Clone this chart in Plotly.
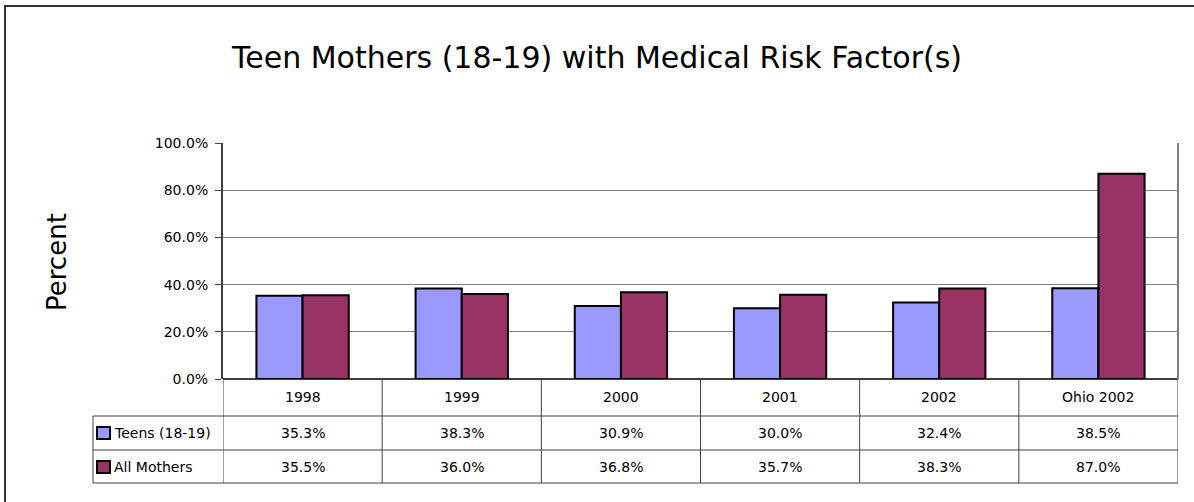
import plotly.graph_objects as go

categories = ["1998", "1999", "2000", "2001", "2002", "Ohio 2002"]
teens = [35.3, 38.3, 30.9, 30.0, 32.4, 38.5]
all_mothers = [35.5, 36.0, 36.8, 35.7, 38.3, 87.0]
series_names = ["Teens (18-19)", "All Mothers"]
colors = ["#9999FF", "#993366"]
y_ticks = [0, 20, 40, 60, 80, 100]

W, H = 1194, 502
L, R, T, B = 223, 16, 143, 123
pw = W - L - R
ph = H - T - B

def px_x(p):
    return (p - L) / pw

def px_y(p):
    return (H - B - p) / ph

FONT = "Verdana, DejaVu Sans, sans-serif"
fig = go.Figure()
for name, vals, c in zip(series_names, [teens, all_mothers], colors):
    fig.add_trace(go.Bar(x=categories, y=vals, name=name, marker=dict(color=c, line=dict(color="black", width=2)),
                         showlegend=False))

n = len(categories)
shapes = []
line_c = "#404040"
# right plot border
shapes.append(dict(type="line", xref="paper", yref="paper", x0=1, x1=1, y0=0, y1=1, line=dict(color="#808080", width=2)))
# table rows
row_lines = [416, 450, 483]
for yp in row_lines:
    shapes.append(dict(type="line", xref="paper", yref="paper", x0=px_x(93), x1=1, y0=px_y(yp), y1=px_y(yp), line=dict(color=line_c, width=1)))
# table verticals at category boundaries
for i in range(n + 1):
    shapes.append(dict(type="line", xref="x", yref="paper", x0=i - 0.5, x1=i - 0.5, y0=0, y1=px_y(483), line=dict(color=line_c, width=1)))
shapes.append(dict(type="line", xref="paper", yref="paper", x0=px_x(93), x1=px_x(93), y0=px_y(416), y1=px_y(483), line=dict(color=line_c, width=1)))
# outer chart border (top and left visible)
shapes.append(dict(type="rect", xref="paper", yref="paper", x0=px_x(5), x1=px_x(1300), y0=px_y(6), y1=px_y(600), line=dict(color="#333333", width=2), fillcolor="rgba(0,0,0,0)"))

annotations = []
row_centers = [397, 433, 467]
tfont = dict(size=14, color="black", family=FONT)
for i, cat in enumerate(categories):
    annotations.append(dict(x=i, xref="x", y=px_y(row_centers[0]), yref="paper", yanchor="middle", xanchor="center", text=cat, showarrow=False, font=tfont))
    for r, vals in enumerate([teens, all_mothers]):
        annotations.append(dict(x=i, xref="x", y=px_y(row_centers[r + 1]), yref="paper", yanchor="middle", xanchor="center", text=f"{vals[i]:.1f}%", showarrow=False, font=tfont))
for r, (name, c) in enumerate(zip(series_names, colors)):
    yc = row_centers[r + 1]
    shapes.append(dict(type="rect", xref="paper", yref="paper", x0=px_x(97), x1=px_x(110), y0=px_y(yc - 6), y1=px_y(yc + 6), fillcolor=c, line=dict(color="black", width=2)))
    annotations.append(dict(x=px_x(112), xref="paper", y=px_y(yc), yref="paper", yanchor="middle", text=name, showarrow=False, xanchor="left", font=tfont))

annotations.append(dict(x=px_x(57), xref="paper", xanchor="center", y=px_y(262), yref="paper", yanchor="middle", text="Percent", textangle=-90, showarrow=False, font=dict(size=26, color="black", family=FONT)))

fig.update_layout(
    width=W, height=H,
    margin=dict(l=L, r=R, t=T, b=B),
    paper_bgcolor="white", plot_bgcolor="white",
    title=dict(text="Teen Mothers (18-19) with Medical Risk Factor(s)", x=0.5, xanchor="center", y=1 - 57 / H, yanchor="middle",
               font=dict(size=30, color="black", family=FONT)),
    barmode="group", bargap=0.42, bargroupgap=0,
    xaxis=dict(type="category", range=[-0.5, n - 0.5], showticklabels=False, showgrid=False, showline=False, zeroline=False, ticks=""),
    yaxis=dict(range=[0, 100], tickvals=y_ticks, ticktext=[f"{v:.1f}%" for v in y_ticks], ticks="outside", ticklen=6, tickcolor=line_c,
               ticklabelstandoff=4,
               showline=True, linecolor=line_c, linewidth=2, gridcolor="#808080", gridwidth=1, zeroline=True, zerolinecolor=line_c, zerolinewidth=2,
               tickfont=dict(size=14, color="black", family=FONT)),
    shapes=shapes, annotations=annotations,
)
fig.write_html("out.html", config={"displayModeBar": False},
               post_script="document.body.style.margin='0';document.body.style.overflow='hidden';")
